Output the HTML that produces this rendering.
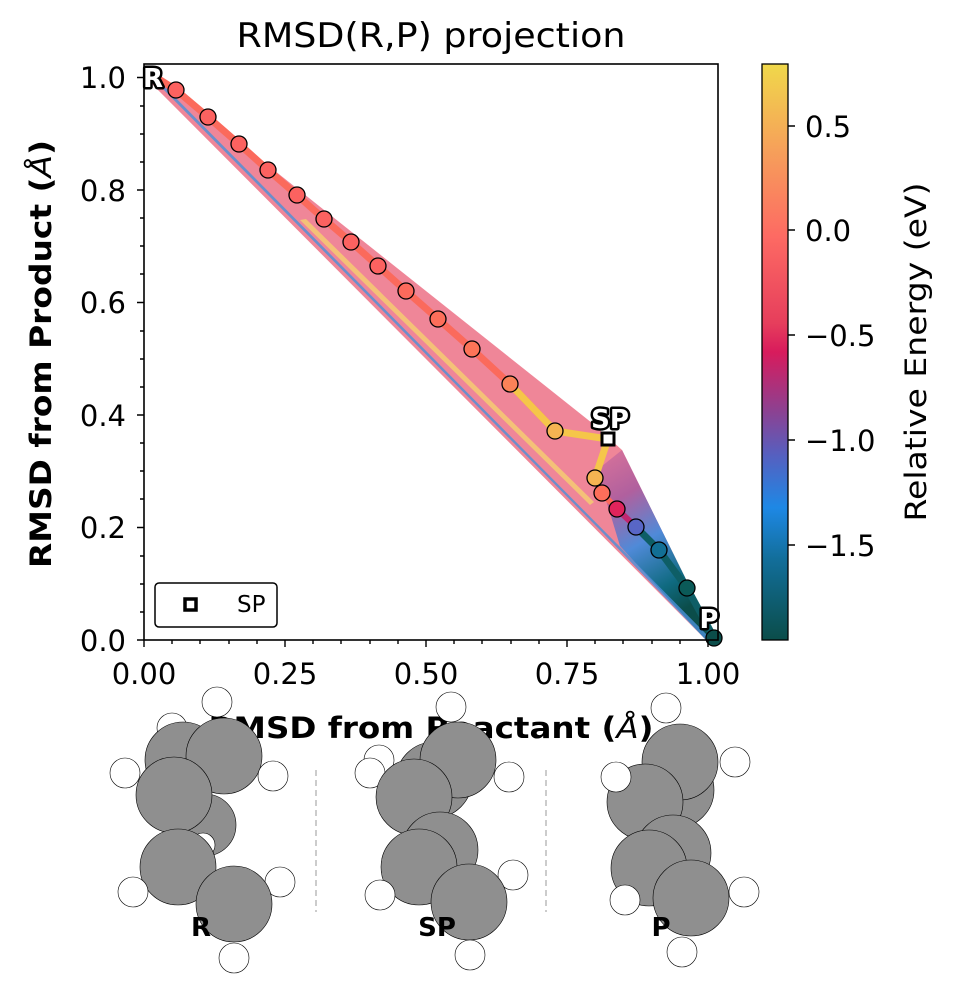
<!DOCTYPE html>
<html><head><meta charset="utf-8"><style>body{margin:0;background:#fff}svg{display:block}</style></head>
<body>
<svg width="953" height="1001" viewBox="0 0 953 1001" xmlns="http://www.w3.org/2000/svg" font-family="DejaVu Sans, Liberation Sans, sans-serif">
<defs>
<linearGradient id="cb" x1="0" y1="0" x2="0" y2="1">
<stop offset="0" stop-color="#f0d84a"/><stop offset="0.15" stop-color="#f6a05a"/><stop offset="0.3" stop-color="#fd6a63"/><stop offset="0.45" stop-color="#e63e5c"/><stop offset="0.5" stop-color="#d81b5c"/><stop offset="0.6" stop-color="#8e4090"/><stop offset="0.68" stop-color="#5560c0"/><stop offset="0.77" stop-color="#1e88e5"/><stop offset="0.86" stop-color="#126e9a"/><stop offset="1" stop-color="#0b4d4a"/>
</linearGradient>
<linearGradient id="rg" x1="600" y1="430" x2="700" y2="600" gradientUnits="userSpaceOnUse">
<stop offset="0" stop-color="#e87a98"/><stop offset="0.35" stop-color="#b0609e"/><stop offset="0.6" stop-color="#4f8ad8"/><stop offset="0.85" stop-color="#0f6a80"/><stop offset="1" stop-color="#0b4d4a"/>
</linearGradient>
</defs>
<polygon points="148,70 592,423 622,450 673,553 716,640 706,640 148,80" fill="#ef8698"/>
<polygon points="597,470 622,450 673,553 716,640 706,640 620,546" fill="url(#rg)"/>
<polygon points="152,78 600,530 706,640 712,640 160,82" fill="#4a90d8" opacity="0.8"/>
<polygon points="300,220 590,505 594,502 306,219" fill="#f5d070" opacity="0.8"/>
<polyline points="154,76 176,90 208,117 239,144 268,170 297,195 324,219 351,242 378,266 406,291 438,319 472,349 510,384 555,431" fill="none" stroke="#fb6a5c" stroke-width="7" stroke-linejoin="round"/>
<polyline points="510,384 555,431 608,439 595,478" fill="none" stroke="#f5c64a" stroke-width="7" stroke-linejoin="round"/>
<polyline points="595,478 602,493 617,509" fill="none" stroke="#fb6a5c" stroke-width="6"/>
<polyline points="617,509 636,527" fill="none" stroke="#c02870" stroke-width="6"/>
<polyline points="636,527 659,550 687,588 712,634" fill="none" stroke="#0e5e66" stroke-width="7"/>
<g stroke="#000" stroke-width="1.3">
<circle cx="176" cy="90" r="8" fill="#fc6260"/><circle cx="208" cy="117" r="8" fill="#fc6260"/><circle cx="239" cy="144" r="8" fill="#fc6260"/><circle cx="268" cy="170" r="8" fill="#fc6260"/><circle cx="297" cy="195" r="8" fill="#fc6260"/><circle cx="324" cy="219" r="8" fill="#fc6260"/><circle cx="351" cy="242" r="8" fill="#fc6260"/><circle cx="378" cy="266" r="8" fill="#fc6260"/><circle cx="406" cy="291" r="8" fill="#fd6a5c"/><circle cx="438" cy="319" r="8" fill="#fd6e5a"/><circle cx="472" cy="349" r="8" fill="#fd7458"/><circle cx="510" cy="384" r="8" fill="#fb8258"/><circle cx="555" cy="431" r="8" fill="#f5b452"/>
<circle cx="595" cy="478" r="8" fill="#f5b452"/><circle cx="602" cy="493" r="8" fill="#fd6e5a"/><circle cx="617" cy="509" r="8" fill="#e0245c"/><circle cx="636" cy="527" r="8" fill="#5866c6"/><circle cx="659" cy="550" r="8" fill="#126f95"/><circle cx="687" cy="588" r="8" fill="#0b5a58"/><circle cx="714" cy="638" r="8" fill="#0b4d4a"/>
</g>
<rect x="602" y="433" width="12" height="12" fill="#fff" stroke="#000" stroke-width="3"/>
<g font-weight="bold" font-size="26" fill="#fff" stroke="#000" stroke-width="5" paint-order="stroke" stroke-linejoin="round">
<text x="153" y="87" text-anchor="middle">R</text><text x="610" y="428" text-anchor="middle">SP</text><text x="709" y="628" text-anchor="middle">P</text>
</g>
<rect x="144" y="64" width="574" height="576" fill="none" stroke="#000" stroke-width="1.6"/>
<g stroke="#000" stroke-width="1.4">
<path d="M144,640v7M285,640v7M426,640v7M567,640v7M708,640v7"/>
<path d="M172,640v4M200,640v4M229,640v4M257,640v4M313,640v4M341,640v4M370,640v4M398,640v4M454,640v4M482,640v4M511,640v4M539,640v4M595,640v4M623,640v4M652,640v4M680,640v4"/>
<path d="M144,640h-7M144,527.5h-7M144,415h-7M144,302.5h-7M144,190h-7M144,77.5h-7"/>
<path d="M144,612h-4M144,584h-4M144,556h-4M144,499h-4M144,471h-4M144,443h-4M144,387h-4M144,359h-4M144,331h-4M144,274h-4M144,246h-4M144,218h-4M144,162h-4M144,134h-4M144,106h-4"/>
</g>
<g font-size="29" fill="#000">
<text x="144" y="684" text-anchor="middle">0.00</text><text x="285" y="684" text-anchor="middle">0.25</text><text x="426" y="684" text-anchor="middle">0.50</text><text x="567" y="684" text-anchor="middle">0.75</text><text x="708" y="684" text-anchor="middle">1.00</text>
<g text-anchor="end"><text x="126" y="651">0.0</text><text x="126" y="538">0.2</text><text x="126" y="426">0.4</text><text x="126" y="313">0.6</text><text x="126" y="201">0.8</text><text x="126" y="88">1.0</text></g>
</g>
<text x="431" y="47" font-size="34" text-anchor="middle" textLength="389" lengthAdjust="spacingAndGlyphs">RMSD(R,P) projection</text>
<text x="431" y="738" font-size="29" font-weight="bold" text-anchor="middle" textLength="445" lengthAdjust="spacingAndGlyphs">RMSD from Reactant (<tspan font-style="italic" font-weight="normal">Å</tspan>)</text>
<text transform="translate(51,354) rotate(-90)" font-size="29" font-weight="bold" text-anchor="middle" textLength="428" lengthAdjust="spacingAndGlyphs">RMSD from Product (<tspan font-style="italic" font-weight="normal">Å</tspan>)</text>
<rect x="155" y="583" width="122" height="44" rx="4" fill="#fff" stroke="#000" stroke-width="1.5"/>
<rect x="185" y="599" width="11" height="11" fill="#fff" stroke="#000" stroke-width="3.5"/>
<text x="237" y="612" font-size="23">SP</text>
<rect x="762" y="64" width="26" height="576" fill="url(#cb)" stroke="#000" stroke-width="1.3"/>
<g stroke="#000" stroke-width="1.4"><path d="M788,126h7M788,230h7M788,335h7M788,440h7M788,545h7"/></g>
<g font-size="29"><text x="805" y="137">0.5</text><text x="805" y="241">0.0</text><text x="805" y="346">−0.5</text><text x="805" y="451">−1.0</text><text x="805" y="556">−1.5</text></g>
<text transform="translate(926,352) rotate(-90)" font-size="29" text-anchor="middle" textLength="339" lengthAdjust="spacingAndGlyphs">Relative Energy (eV)</text>
<g stroke="#000" stroke-width="0.6">
<circle cx="217" cy="702" r="15" fill="#fff"/><circle cx="172" cy="728" r="15" fill="#fff"/>
<circle cx="183" cy="760" r="38" fill="#8f8f8f"/><circle cx="224" cy="756" r="38" fill="#8f8f8f"/>
<circle cx="125" cy="773" r="15" fill="#fff"/><circle cx="273" cy="776" r="15" fill="#fff"/>
<circle cx="205" cy="825" r="31" fill="#8f8f8f"/><circle cx="174" cy="795" r="38" fill="#8f8f8f"/>
<circle cx="203" cy="845" r="12" fill="#fff"/>
<circle cx="178" cy="867" r="38" fill="#8f8f8f"/><circle cx="133" cy="892" r="15" fill="#fff"/><circle cx="280" cy="882" r="15" fill="#fff"/>
<circle cx="234" cy="904" r="38" fill="#8f8f8f"/><circle cx="234" cy="958" r="15" fill="#fff"/>
<circle cx="451" cy="707" r="15" fill="#fff"/><circle cx="379" cy="760" r="15" fill="#fff"/>
<circle cx="434" cy="780" r="38" fill="#8f8f8f"/><circle cx="458" cy="760" r="38" fill="#8f8f8f"/><circle cx="509" cy="777" r="15" fill="#fff"/>
<circle cx="370" cy="773" r="15" fill="#fff"/><circle cx="414" cy="797" r="38" fill="#8f8f8f"/>
<circle cx="440" cy="850" r="38" fill="#8f8f8f"/><circle cx="419" cy="867" r="38" fill="#8f8f8f"/><circle cx="513" cy="875" r="15" fill="#fff"/>
<circle cx="380" cy="895" r="15" fill="#fff"/><circle cx="469" cy="902" r="38" fill="#8f8f8f"/><circle cx="470" cy="955" r="15" fill="#fff"/>
<circle cx="666" cy="708" r="15" fill="#fff"/><circle cx="676" cy="790" r="38" fill="#8f8f8f"/><circle cx="680" cy="762" r="38" fill="#8f8f8f"/>
<circle cx="735" cy="762" r="15" fill="#fff"/><circle cx="645" cy="802" r="38" fill="#8f8f8f"/><circle cx="616" cy="777" r="15" fill="#fff"/>
<circle cx="673" cy="853" r="38" fill="#8f8f8f"/><circle cx="649" cy="868" r="38" fill="#8f8f8f"/><circle cx="625" cy="900" r="15" fill="#fff"/>
<circle cx="744" cy="892" r="15" fill="#fff"/><circle cx="691" cy="898" r="38" fill="#8f8f8f"/><circle cx="682" cy="952" r="15" fill="#fff"/>
</g>
<g stroke="#bbb" stroke-width="1.5" stroke-dasharray="6,4"><path d="M316,770V912M546,770V912"/></g>
<g font-size="26" font-weight="bold" text-anchor="middle"><text x="201" y="936">R</text><text x="437" y="936">SP</text><text x="661" y="936">P</text></g>
</svg>
</body></html>
